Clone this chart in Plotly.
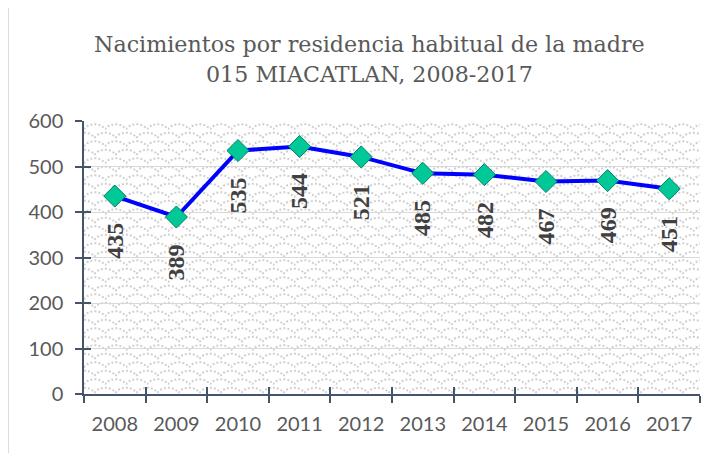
import base64
import plotly.graph_objects as go

years = ["2008", "2009", "2010", "2011", "2012", "2013", "2014", "2015", "2016", "2017"]
births = [435, 389, 535, 544, 521, 485, 482, 467, 469, 451]
title_lines = ["Nacimientos por residencia habitual de la madre", "015 MIACATLAN, 2008-2017"]

OFF = 8  # page body margin
W, H = 721 - OFF, 453 - OFF
L, R, T, B = 84 - OFF, 21, 121 - OFF, 59
PW, PH = W - L - R, H - T - B

AXIS_COL = "#44546a"
TXT_COL = "#595959"

svg = (
    f"<svg xmlns='http://www.w3.org/2000/svg' width='{PW}' height='{PH}'>"
    "<defs><pattern id='p' width='21' height='17' patternUnits='userSpaceOnUse'>"
    "<path d='M0,8.5 C4,1.5 17,1.5 21,8.5 M-10.5,17 C-6.5,10 6.5,10 10.5,17 M10.5,17 C14.5,10 27.5,10 31.5,17 "
    "M-10.5,0 C-6.5,-7 6.5,-7 10.5,0 M10.5,0 C14.5,-7 27.5,-7 31.5,0' fill='none' stroke='#d0d0d0' "
    "stroke-width='2' stroke-dasharray='2,2'/></pattern></defs>"
    "<rect width='100%' height='100%' fill='white'/>"
    "<rect width='100%' height='100%' fill='url(#p)'/></svg>"
)
svg_uri = "data:image/svg+xml;base64," + base64.b64encode(svg.encode()).decode()

fig = go.Figure()

fig.add_trace(go.Scatter(
    x=years, y=births, mode="lines+markers",
    line=dict(color="#0000ff", width=4),
    marker=dict(symbol="diamond", size=17, color="#00c896",
                line=dict(color="#00806a", width=1)),
    cliponaxis=False, hoverinfo="x+y", showlegend=False,
))
# invisible copy for overlay axes (cross ticks)
fig.add_trace(go.Scatter(
    x=years, y=births, mode="markers", opacity=0, xaxis="x2", yaxis="y2",
    hoverinfo="skip", showlegend=False,
))

for i, v in enumerate(births):
    fig.add_annotation(
        x=i, y=v, xref="x", yref="y", text=str(v), textangle=-90,
        showarrow=False, yshift=-45,
        font=dict(family="Liberation Serif", size=24, color="#404040", weight="bold"),
    )

def px_to_paper_x(px):
    return (px - OFF - L) / PW

def px_to_paper_y(py):
    return (H - B - (py - OFF)) / PH

for line, ypx in zip(title_lines, [44, 74]):
    fig.add_annotation(
        x=px_to_paper_x(369), y=px_to_paper_y(ypx), xref="paper", yref="paper",
        text=line, showarrow=False, xanchor="center", yanchor="middle",
        font=dict(family="DejaVu Serif", size=22.2, color=TXT_COL),
    )

fig.add_shape(
    type="rect", xref="paper", yref="paper",
    x0=px_to_paper_x(8.5), x1=px_to_paper_x(740), y0=px_to_paper_y(470), y1=px_to_paper_y(-10),
    line=dict(color="#d9dde4", width=1), fillcolor="rgba(0,0,0,0)", layer="below",
)

fig.add_layout_image(
    source=svg_uri, xref="paper", yref="paper", x=0, y=1, sizex=1, sizey=1,
    xanchor="left", yanchor="top", sizing="stretch", layer="below",
)

tickfont = dict(family="Lato", size=20, color=TXT_COL)
fig.update_layout(
    width=W, height=H, margin=dict(l=L, r=R, t=T, b=B),
    paper_bgcolor="white", plot_bgcolor="rgba(0,0,0,0)",
    xaxis=dict(type="category", categoryorder="array", categoryarray=years,
               range=[-0.5, 9.5], tickson="boundaries", ticks="outside", ticklen=7,
               tickwidth=1.5, tickcolor=AXIS_COL, showline=True, linecolor=AXIS_COL,
               linewidth=1.5, showgrid=False, zeroline=False, tickfont=tickfont,
               ticklabelstandoff=11),
    yaxis=dict(range=[0, 600], dtick=100, ticks="outside", ticklen=7, tickwidth=1.5,
               tickcolor=AXIS_COL, showline=True, linecolor=AXIS_COL, linewidth=1.5,
               showgrid=True, gridcolor="#d9d9d9", gridwidth=1, zeroline=False,
               tickfont=tickfont, ticklabelstandoff=8),
    xaxis2=dict(type="category", categoryorder="array", categoryarray=years,
                overlaying="x", anchor="y2", range=[-0.5, 9.5], tickson="boundaries",
                ticks="inside", ticklen=7, tickwidth=1.5, tickcolor=AXIS_COL,
                showticklabels=False, showline=False, showgrid=False, zeroline=False),
    yaxis2=dict(overlaying="y", anchor="x2", range=[0, 600], dtick=100, ticks="inside",
                ticklen=7, tickwidth=1.5, tickcolor=AXIS_COL, showticklabels=False,
                showline=False, showgrid=False, zeroline=False),
)

fig.write_html("out.html")
